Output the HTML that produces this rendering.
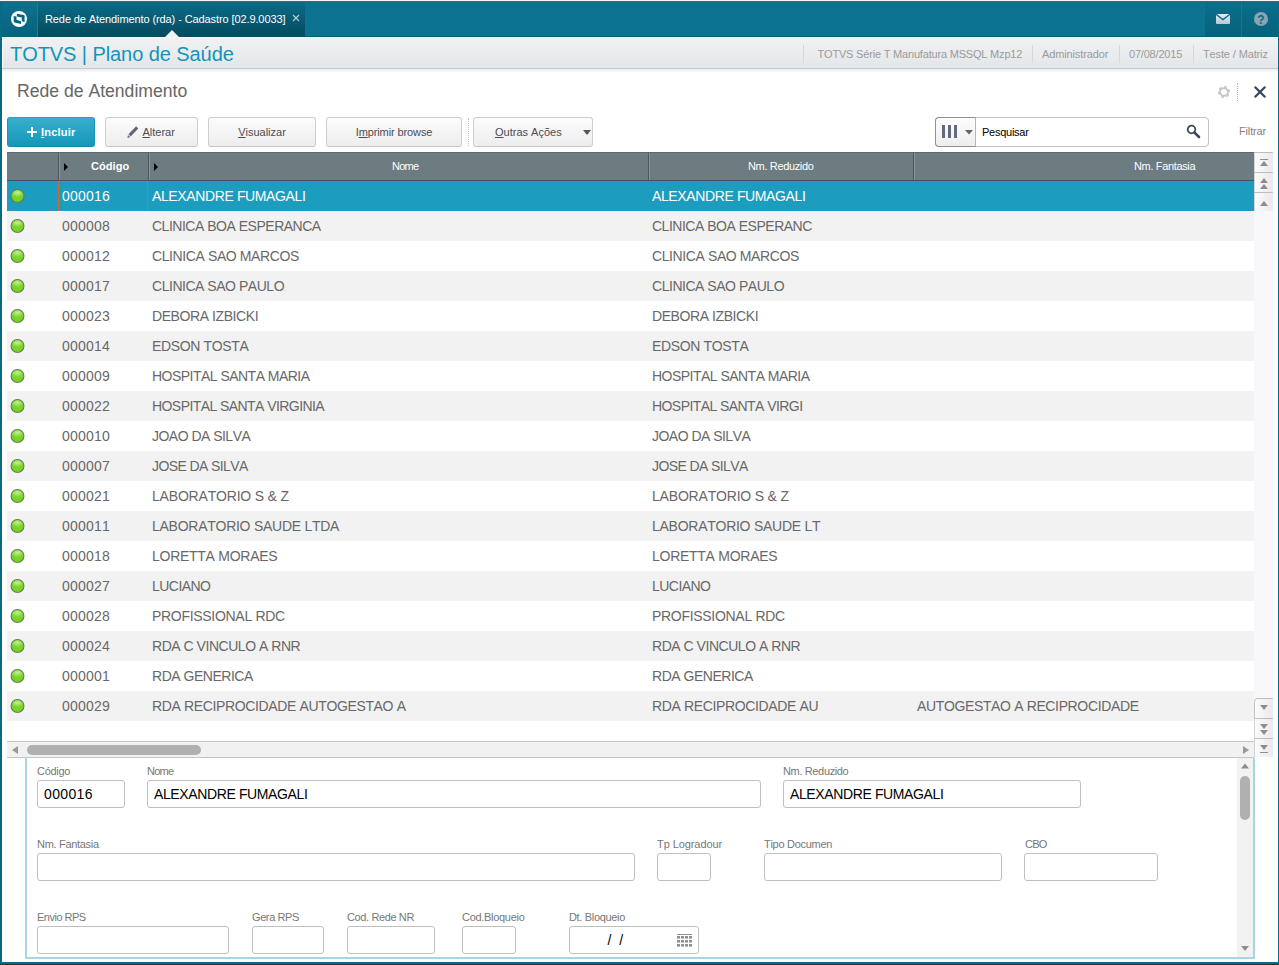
<!DOCTYPE html>
<html><head><meta charset="utf-8">
<style>
*{box-sizing:border-box;margin:0;padding:0}
html,body{width:1279px;height:965px;overflow:hidden;background:#fff}
body{font-family:"Liberation Sans",sans-serif;font-kerning:none;position:relative;color:#555}
.abs{position:absolute}
#frame{position:absolute;left:0;top:0;width:1279px;height:965px;background:#0a6a86}
#topline{position:absolute;left:0;top:0;width:1279px;height:2px;background:linear-gradient(#f6f6f8 0,#f6f6f8 50%,#4f6672 50%,#3f6270 100%)}
#bar{position:absolute;left:2px;top:2px;width:1276px;height:35px;background:#0b728f;box-shadow:inset 0 -1px 0 #03627f}
#tab{position:absolute;left:35px;top:0;width:268px;height:35px;background:linear-gradient(#0a6c87,#054a5f);border-left:1px solid #4d6a76}
#tab span{position:absolute;left:7px;top:11px;font-size:11px;color:#fff;white-space:nowrap;letter-spacing:-0.1px}
#content{position:absolute;left:2px;top:37px;width:1276px;height:924.5px;background:#fff}
#hdr{position:absolute;left:0;top:0;width:1276px;height:32px;background:linear-gradient(#f1f1f2,#e3e7ea);border-top:1px solid #fbf8f7;border-bottom:1px solid #c4c9cc;box-shadow:inset 1px 0 0 #fbf8f7,0 2px 0 #eef0f1,0 3px 0 #f7f8f8}
#hdr h1{position:absolute;left:8px;top:5px;font-size:20px;font-weight:normal;color:#1294bc;white-space:nowrap;letter-spacing:-0.07px}
.info{position:absolute;top:10px;font-size:11px;color:#9b9b9b;white-space:nowrap}
.sep{position:absolute;top:7px;width:1px;height:18px;background:#d3d7da}
#title{position:absolute;left:15px;top:44px;font-size:17.6px;color:#666;white-space:nowrap}
.btn{position:absolute;top:80px;height:30px;border:1px solid #cecece;border-bottom-color:#c6c6c6;border-radius:3px;background:linear-gradient(#fcfcfc,#ededed);font-size:11px;color:#4c4c52;text-align:center;line-height:28px;white-space:nowrap}
.btn u{text-decoration:underline}
#incluir{background:linear-gradient(#38aecd,#1597b9);border-color:#2a9fc0 #1c93b4 #148aab #1c93b4;color:#fff;font-weight:bold}

#grid{position:absolute;left:5px;top:115px;width:1247px;height:589px;background:#fff;overflow:hidden}
#gh{position:absolute;left:0;top:0;width:1247px;height:29px;background:#6d7c81;border-top:1px solid #5b686d;border-bottom:1px solid #495256}
.hc{position:absolute;top:0;height:27px;border-left:1px solid #4e585c;box-shadow:inset 1px 0 0 #87949a;color:#fff;font-size:11px}
.hc:first-child{border-left:none;box-shadow:none}
.hc span,.hc b{position:absolute;top:7px;white-space:nowrap;letter-spacing:-0.35px}
.ar{position:absolute;left:5px;top:10px;width:0;height:0;border-left:4px solid #000;border-top:4px solid transparent;border-bottom:4px solid transparent}
.r{position:absolute;left:0;width:1247px;height:30px;font-size:14px;color:#686868;line-height:30px;white-space:nowrap}
.r.odd{background:#f2f2f2}
.r.sel{background:#1c9cbe;color:#fff}
.r span{position:absolute;top:0}
.c1{left:55px;letter-spacing:0.2px}.c2{left:145px}.c3{left:645px}.c4{left:910px}
.ball{position:absolute;left:3px;top:8px;transform:translateX(0.5px);width:14px;height:14px;border-radius:50%;background:radial-gradient(ellipse 60% 35% at 50% 22%,#c4f294 0,rgba(196,242,148,0) 100%),radial-gradient(circle at 50% 50%,#7dd82c 0,#74cf27 70%,#62b81f 100%);border:1px solid rgba(85,90,85,.7)}
#focus{position:absolute;left:51px;top:29px;width:90px;height:30px;border:1px dotted #d9703a}

#vnav{position:absolute;left:1252px;top:115px;width:19px;height:605px;background:#f8f8fa}
.nb{position:absolute;left:0;width:19px;height:20px;background:linear-gradient(90deg,#fbfbfb,#e9eaed);border-top:1px solid #bdbdbd;border-left:1px solid #d4d4d4}
.nb svg{margin-left:-1px}
.nb svg{position:absolute;left:0;top:0}
#hs{position:absolute;left:5px;top:704px;width:1247px;height:17px;background:#f1f1f1;border-top:1px solid #c3c7c9;border-bottom:1px solid #c3c7c9}
#hs .th{position:absolute;left:20px;top:3px;width:174px;height:10px;border-radius:5px;background:#b0b0b0}
#hs .la{position:absolute;left:5px;top:3.5px;width:0;height:0;border-right:6px solid #999;border-top:4.5px solid transparent;border-bottom:4.5px solid transparent}
#hs .ra{position:absolute;left:1236px;top:3.5px;width:0;height:0;border-left:6px solid #999;border-top:4.5px solid transparent;border-bottom:4.5px solid transparent}

#dp{position:absolute;left:23px;top:721px;width:1230px;height:201px;border:2px solid #a8d5e3;border-top:none;background:#fff}
.lb{position:absolute;font-size:11px;color:#777;white-space:nowrap}
.in{position:absolute;height:28px;border:1px solid #bbc1c1;border-radius:3px;background:#fff;font-size:14px;color:#000;line-height:26px;padding-left:6px;white-space:nowrap}
#vs{position:absolute;left:1210px;top:0;width:16px;height:199px;background:#f2f2f2}
#vs .th{position:absolute;left:3px;top:18px;width:10px;height:44px;border-radius:5px;background:#b0b0b0}

#logo{position:absolute;left:0;top:0}
#tabx{position:absolute;left:254px;top:12px}
#ptr{position:absolute;left:163px;top:28px;width:0;height:0;border-left:7px solid transparent;border-right:7px solid transparent;border-bottom:7px solid #eef0f2}
#rbtn{position:absolute;left:1203px;top:0;width:73px;height:35px;background:linear-gradient(#0a6f8b,#07617b)}
#rbtn .sp{position:absolute;left:36px;top:0;width:1px;height:35px;background:#3d6877}

#srch{position:absolute;left:933px;top:80px;width:274px;height:30px;border:1px solid #bcc3c3;border-radius:4px;background:#fff}
#srch .cb{position:absolute;left:-1px;top:-1px;width:41px;height:30px;border:1px solid #919191;border-right-color:#b4b8ba;background:linear-gradient(#fdfdfd,#eeeeee);border-radius:4px 0 0 4px}
#srch .tx{position:absolute;left:46px;top:8px;font-size:11px;color:#000;letter-spacing:-0.26px}
#filtrar{position:absolute;left:1237px;top:88px;font-size:11px;color:#828282;letter-spacing:-0.15px}
</style></head><body>
<div id="frame"></div>
<div id="topline"></div>
<div style="position:absolute;left:0;top:964px;width:1279px;height:1px;background:#2e3336"></div>
<div id="bar">
<svg id="logo" width="35" height="35" viewBox="2 2 35 35"><defs><linearGradient id="lg" x1="0" y1="0" x2="0" y2="1"><stop offset="0" stop-color="#0b728e"/><stop offset="1" stop-color="#08627d"/></linearGradient></defs><rect x="2" y="2" width="35" height="35" fill="url(#lg)"/><circle cx="19" cy="19" r="8" fill="#fff"/><path d="M16.8 13.8 L23.8 14.9 L24.6 15.8 L24.6 22 L21.8 21.3 L21.8 17.6 L16.8 16.4Z" fill="#066682"/><path d="M13.700 16 L16.500 16.500 L16.500 19.700 L21.100 21.200 L21.100 24 L14.500 22.500 L13.700 21.500Z" fill="#066682"/></svg>
  <div id="tab"><span>Rede de Atendimento (rda) - Cadastro [02.9.0033]</span><svg id="tabx" width="8" height="8"><path d="M1 1 L7 7 M7 1 L1 7" stroke="#b4cbd4" stroke-width="1.2" fill="none"/></svg></div>
<div id="rbtn"><svg width="73" height="35" style="position:absolute;left:0;top:0"><defs><linearGradient id="mg" x1="0" y1="0" x2="0" y2="1"><stop offset="0" stop-color="#e3ecf0"/><stop offset="1" stop-color="#b7c9d1"/></linearGradient></defs><rect x="11" y="12" width="14" height="10" rx="1" fill="url(#mg)"/><path d="M11 12.3 L18 17.6 L25 12.3" stroke="#0a6a86" stroke-width="1.3" fill="none"/><circle cx="56" cy="17" r="7" fill="#8ba4b1"/><text x="56" y="21.5" font-family="Liberation Sans" font-weight="bold" font-size="12" fill="#0a6a86" text-anchor="middle">?</text></svg><i class="sp"></i></div>
<div id="ptr"></div>
</div>
<div id="content">
  <div id="hdr"><h1>TOTVS | Plano de Saúde</h1>
    <i class="sep" style="left:801px"></i><i class="sep" style="left:1030px"></i><i class="sep" style="left:1117px"></i><i class="sep" style="left:1191px"></i><div class="info" style="left:815.5px;letter-spacing:-0.19px">TOTVS Série T Manufatura MSSQL Mzp12</div>
    <div class="info" style="left:1040px;letter-spacing:-0.13px">Administrador</div>
    <div class="info" style="left:1127px;letter-spacing:-0.2px">07/08/2015</div>
    <div class="info" style="left:1201px;letter-spacing:-0.13px">Teste / Matriz</div>
  </div>
  <div id="title">Rede de Atendimento</div>
  <div class="btn" id="incluir" style="left:5px;width:88px"><svg width="10" height="10" style="position:absolute;left:19px;top:9px"><path d="M5 0V10M0 5H10" stroke="#fff" stroke-width="2"/></svg><span style="position:absolute;left:33px;top:0;letter-spacing:0.2px"><u>I</u>ncluir</span></div>
  <div class="btn" style="left:103px;width:93px"><svg width="12" height="12" style="position:absolute;left:21px;top:8px"><path d="M10.200 1.400 L2.600 9.400" stroke="#5f6672" stroke-width="3"/><path d="M0.300 11.900 L1 8.900 L3.300 11.200Z" fill="#6a707b"/></svg><span style="position:absolute;left:36.5px;top:0"><u>A</u>lterar</span></div>
  <div class="btn" style="left:206px;width:108px"><u>V</u>isualizar</div>
  <div class="btn" style="left:324px;width:136px;letter-spacing:-0.11px">I<u>m</u>primir browse</div>
  <i style="position:absolute;left:466px;top:81px;width:0;height:28px;border-left:1px dotted #c4c4c4"></i>
  <div class="btn" style="left:471px;width:120px"><span style="position:absolute;left:21px;top:0"><u>O</u>utras Ações</span><i style="position:absolute;left:109px;top:12px;width:0;height:0;border-left:4px solid transparent;border-right:4px solid transparent;border-top:5px solid #555"></i></div>
  <!--GRID-->
<div id="grid">
<div id="gh"><div class="hc" style="left:0;width:52px"></div><div class="hc" style="left:51px;width:90px"><i class="ar"></i><b style="left:32px;letter-spacing:0.05px">Código</b></div><div class="hc" style="left:141px;width:500px"><i class="ar"></i><span style="left:243px;letter-spacing:-0.75px">Nome</span></div><div class="hc" style="left:641px;width:266px"><span style="left:99px">Nm. Reduzido</span></div><div class="hc" style="left:906px;width:341px"><span style="left:220px">Nm. Fantasia</span></div></div>
<div class="r sel" style="top:29px;letter-spacing:-0.382px"><i class="ball"></i><span class="c1">000016</span><span class="c2">ALEXANDRE FUMAGALI</span><span class="c3">ALEXANDRE FUMAGALI</span></div>
<div class="r odd" style="top:59px;letter-spacing:-0.487px"><i class="ball"></i><span class="c1">000008</span><span class="c2">CLINICA BOA ESPERANCA</span><span class="c3">CLINICA BOA ESPERANC</span></div>
<div class="r" style="top:89px;letter-spacing:-0.397px"><i class="ball"></i><span class="c1">000012</span><span class="c2">CLINICA SAO MARCOS</span><span class="c3">CLINICA SAO MARCOS</span></div>
<div class="r odd" style="top:119px;letter-spacing:-0.469px"><i class="ball"></i><span class="c1">000017</span><span class="c2">CLINICA SAO PAULO</span><span class="c3">CLINICA SAO PAULO</span></div>
<div class="r" style="top:149px;letter-spacing:-0.423px"><i class="ball"></i><span class="c1">000023</span><span class="c2">DEBORA IZBICKI</span><span class="c3">DEBORA IZBICKI</span></div>
<div class="r odd" style="top:179px;letter-spacing:-0.35px"><i class="ball"></i><span class="c1">000014</span><span class="c2">EDSON TOSTA</span><span class="c3">EDSON TOSTA</span></div>
<div class="r" style="top:209px;letter-spacing:-0.526px"><i class="ball"></i><span class="c1">000009</span><span class="c2">HOSPITAL SANTA MARIA</span><span class="c3">HOSPITAL SANTA MARIA</span></div>
<div class="r odd" style="top:239px;letter-spacing:-0.568px"><i class="ball"></i><span class="c1">000022</span><span class="c2">HOSPITAL SANTA VIRGINIA</span><span class="c3">HOSPITAL SANTA VIRGI</span></div>
<div class="r" style="top:269px;letter-spacing:-0.521px"><i class="ball"></i><span class="c1">000010</span><span class="c2">JOAO DA SILVA</span><span class="c3">JOAO DA SILVA</span></div>
<div class="r odd" style="top:299px;letter-spacing:-0.604px"><i class="ball"></i><span class="c1">000007</span><span class="c2">JOSE DA SILVA</span><span class="c3">JOSE DA SILVA</span></div>
<div class="r" style="top:329px;letter-spacing:-0.188px"><i class="ball"></i><span class="c1">000021</span><span class="c2">LABORATORIO S &amp; Z</span><span class="c3">LABORATORIO S &amp; Z</span></div>
<div class="r odd" style="top:359px;letter-spacing:-0.262px"><i class="ball"></i><span class="c1">000011</span><span class="c2">LABORATORIO SAUDE LTDA</span><span class="c3">LABORATORIO SAUDE LT</span></div>
<div class="r" style="top:389px;letter-spacing:-0.269px"><i class="ball"></i><span class="c1">000018</span><span class="c2">LORETTA MORAES</span><span class="c3">LORETTA MORAES</span></div>
<div class="r odd" style="top:419px;letter-spacing:-0.542px"><i class="ball"></i><span class="c1">000027</span><span class="c2">LUCIANO</span><span class="c3">LUCIANO</span></div>
<div class="r" style="top:449px;letter-spacing:-0.3px"><i class="ball"></i><span class="c1">000028</span><span class="c2">PROFISSIONAL RDC</span><span class="c3">PROFISSIONAL RDC</span></div>
<div class="r odd" style="top:479px;letter-spacing:-0.472px"><i class="ball"></i><span class="c1">000024</span><span class="c2">RDA C VINCULO A RNR</span><span class="c3">RDA C VINCULO A RNR</span></div>
<div class="r" style="top:509px;letter-spacing:-0.477px"><i class="ball"></i><span class="c1">000001</span><span class="c2">RDA GENERICA</span><span class="c3">RDA GENERICA</span></div>
<div class="r odd" style="top:539px;letter-spacing:-0.362px"><i class="ball"></i><span class="c1">000029</span><span class="c2">RDA RECIPROCIDADE AUTOGESTAO A</span><span class="c3">RDA RECIPROCIDADE AU</span><span class="c4">AUTOGESTAO A RECIPROCIDADE</span></div>
<div id="focus"></div>
</div>
<!--/GRID-->
<div id="vnav">
 <div class="nb" style="top:0"><svg width="19" height="20"><rect x="6" y="6" width="8" height="1" fill="#8e8e8e"/><path d="M6 13 L10 8 L14 13Z" fill="#8e8e8e"/></svg></div>
 <div class="nb" style="top:20px"><svg width="19" height="20"><path d="M6 10 L10 5 L14 10Z M6 16 L10 11 L14 16Z" fill="#8e8e8e"/></svg></div>
 <div class="nb" style="top:40px;height:19px"><svg width="19" height="20"><path d="M6 13 L10 8 L14 13Z" fill="#8e8e8e"/></svg></div>
 <div class="nb" style="top:546px;border-top-left-radius:4px;border-left:1px solid #c4c4c4"><svg width="19" height="20"><path d="M6 6 L14 6 L10 11Z" fill="#8e8e8e"/></svg></div>
 <div class="nb" style="top:566px"><svg width="19" height="20"><path d="M6 5 L14 5 L10 10Z M6 11 L14 11 L10 16Z" fill="#8e8e8e"/></svg></div>
 <div class="nb" style="top:586px;height:19px"><svg width="19" height="20"><path d="M6 6 L14 6 L10 11Z" fill="#8e8e8e"/><rect x="6" y="13" width="8" height="1" fill="#8e8e8e"/></svg></div>
</div>
<div id="hs"><i class="la"></i><div class="th"></div><i class="ra"></i></div>

  <div id="srch"><div class="cb"><svg width="40" height="28" style="position:absolute;left:0;top:0"><path d="M6 7h3v13h-3zM12 7h3v13h-3zM18 7h3v13h-3z" fill="#626a7e"/><path d="M29 12h8l-4 4.500z" fill="#5d6474"/></svg></div><span class="tx">Pesquisar</span><svg width="16" height="16" style="position:absolute;left:250px;top:6px"><circle cx="5.5" cy="5.5" r="3.8" stroke="#3c495a" stroke-width="1.8" fill="none"/><path d="M8.3 8.3 L13 13" stroke="#3c495a" stroke-width="2.6" stroke-linecap="round"/></svg></div>
  <div id="filtrar">Filtrar</div>
  <svg width="16" height="16" style="position:absolute;left:1214px;top:47px" viewBox="0 0 16 16"><g fill="none" stroke="#c3c6ca"><circle cx="8" cy="8" r="3.9" stroke-width="1.9"/><path d="M11.04 11.04L12.24 12.24M6.89 12.15L6.45 13.80M3.85 9.11L2.20 9.55M4.96 4.96L3.76 3.76M9.11 3.85L9.55 2.20M12.15 6.89L13.80 6.45" stroke-width="2.6"/></g></svg>
  <i style="position:absolute;left:1235px;top:46px;width:0;height:18px;border-left:1px dotted #aeb6bb"></i>
  <svg width="14" height="14" style="position:absolute;left:1251px;top:48px"><path d="M1.700 1.700 L12.300 12.300 M12.300 1.700 L1.700 12.300" stroke="#3a4960" stroke-width="2.3"/></svg>
<!--TABLE3-->
  <!--DP-->
<div id="dp">
<div class="lb" style="left:10px;top:7px;letter-spacing:-0.3px">Código</div>
<div class="lb" style="left:120px;top:7px;letter-spacing:-0.75px">Nome</div>
<div class="lb" style="left:756px;top:7px;letter-spacing:-0.36px">Nm. Reduzido</div>
<div class="in" style="left:10px;top:22px;width:88px"><span style="letter-spacing:0.35px">000016</span></div>
<div class="in" style="left:120px;top:22px;width:614px"><span style="letter-spacing:-0.38px">ALEXANDRE FUMAGALI</span></div>
<div class="in" style="left:756px;top:22px;width:298px"><span style="letter-spacing:-0.38px">ALEXANDRE FUMAGALI</span></div>
<div class="lb" style="left:10px;top:80px;letter-spacing:-0.31px">Nm. Fantasia</div>
<div class="lb" style="left:630px;top:80px;letter-spacing:-0.08px">Tp Logradour</div>
<div class="lb" style="left:737px;top:80px;letter-spacing:-0.28px">Tipo Documen</div>
<div class="lb" style="left:998px;top:80px;letter-spacing:-0.8px">CBO</div>
<div class="in" style="left:10px;top:95px;width:598px"></div>
<div class="in" style="left:630px;top:95px;width:54px"></div>
<div class="in" style="left:737px;top:95px;width:238px"></div>
<div class="in" style="left:997px;top:95px;width:134px"></div>
<div class="lb" style="left:10px;top:153px;letter-spacing:-0.5px">Envio RPS</div>
<div class="lb" style="left:225px;top:153px;letter-spacing:-0.4px">Gera RPS</div>
<div class="lb" style="left:320px;top:153px;letter-spacing:-0.38px">Cod. Rede NR</div>
<div class="lb" style="left:435px;top:153px;letter-spacing:-0.3px">Cod.Bloqueio</div>
<div class="lb" style="left:542px;top:153px;letter-spacing:-0.33px">Dt. Bloqueio</div>
<div class="in" style="left:10px;top:168px;width:192px"></div>
<div class="in" style="left:225px;top:168px;width:72px"></div>
<div class="in" style="left:320px;top:168px;width:88px"></div>
<div class="in" style="left:435px;top:168px;width:54px"></div>
<div class="in" style="left:542px;top:168px;width:130px"><span style="position:absolute;left:37.5px;top:0">/&nbsp;&nbsp;/</span><svg style="position:absolute;left:107px;top:7px" width="16" height="14"><g fill="#8b9199"><rect x="0" y="0" width="15" height="1"/><rect x="0" y="2" width="3" height="2.600"/><rect x="4" y="2" width="3" height="2.600"/><rect x="8" y="2" width="3" height="2.600"/><rect x="12" y="2" width="3" height="2.600"/><rect x="0" y="6" width="3" height="2.600"/><rect x="4" y="6" width="3" height="2.600"/><rect x="8" y="6" width="3" height="2.600"/><rect x="12" y="6" width="3" height="2.600"/><rect x="0" y="10" width="3" height="2.600"/><rect x="4" y="10" width="3" height="2.600"/><rect x="8" y="10" width="3" height="2.600"/><rect x="12" y="10" width="3" height="2.600"/></g></svg></div>
<div id="vs"><svg width="16" height="200" style="position:absolute;left:0;top:0"><path d="M4 10.500 L8 5.500 L12 10.500Z M4 188 L12 188 L8 193Z" fill="#8e8e8e"/></svg><div class="th"></div></div>
</div>
<!--/DP-->
<!--DETAIL2-->
</div>
</body></html>
